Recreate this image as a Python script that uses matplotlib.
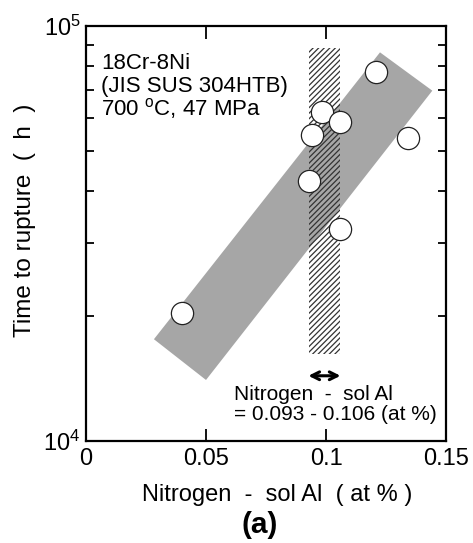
import matplotlib
matplotlib.use("Agg")
import matplotlib.pyplot as plt
from matplotlib.patches import Polygon, Rectangle
from matplotlib.ticker import FixedLocator, NullFormatter

plt.rcParams['font.family'] = ['Liberation Sans', 'DejaVu Sans']
plt.rcParams['mathtext.default'] = 'regular'
plt.rcParams['hatch.linewidth'] = 0.9
plt.rcParams['hatch.color'] = '#333333'

# data
n_sol_al = [0.040, 0.121, 0.0985, 0.106, 0.0943, 0.134, 0.0931, 0.106]
rupture_h = [20300, 77600, 62200, 58800, 54600, 53800, 42300, 32500]

band_x = [0.1225, 0.1443, 0.050, 0.0283]
band_y = [86400, 69850, 14030, 17590]

range_lo, range_hi = 0.093, 0.106
range_ymin, range_ymax = 16200, 88300
arrow_y = 14360

xticks = [0, 0.05, 0.1, 0.15]
xticklabels = ['0', '0.05', '0.1', '0.15']

fig = plt.figure(figsize=(4.73, 5.43), dpi=100)
ax = fig.add_axes([86/473, 1-441/543, 360/473, 415/543])
ax.set_xlim(0, 0.15)
ax.set_yscale('log')
ax.set_ylim(1e4, 1e5)

ax.add_patch(Polygon(list(zip(band_x, band_y)), closed=True,
                     facecolor='#a6a6a6', edgecolor='none', zorder=1))
ax.add_patch(Rectangle((range_lo, range_ymin), range_hi-range_lo,
                       range_ymax-range_ymin, facecolor='none',
                       edgecolor='#333333', linewidth=0, hatch='//////', zorder=2))
ax.plot(n_sol_al, rupture_h, 'o', ms=16, mfc='white', mec='#222222',
        mew=0.9, zorder=3, linestyle='none')

ax.annotate('', xy=(0.0915, arrow_y), xytext=(0.1072, arrow_y),
            arrowprops=dict(arrowstyle='<->', lw=2.2, color='black',
                            mutation_scale=14), zorder=4)

ax.text(0.0615, 12950, 'Nitrogen  -  sol Al', fontsize=15, va='center', ha='left')
ax.text(0.0615, 11600, '= 0.093 - 0.106 (at %)', fontsize=15, va='center', ha='left')

ax.text(0.0063, 81000, '18Cr-8Ni', fontsize=16, va='center', ha='left')
ax.text(0.0063, 71500, '(JIS SUS 304HTB)', fontsize=16, va='center', ha='left')
ax.text(0.0063, 63200, '700 $^{o}$C, 47 MPa', fontsize=16, va='center', ha='left')

ax.set_xticks(xticks)
ax.set_xticklabels(xticklabels, fontsize=17)
ax.yaxis.set_major_locator(FixedLocator([1e4, 1e5]))
ax.set_yticklabels(['$10^4$', '$10^5$'], fontsize=17)
ax.yaxis.set_minor_locator(FixedLocator([k*1e4 for k in range(2, 10)]))
ax.yaxis.set_minor_formatter(NullFormatter())
ax.xaxis.set_minor_locator(FixedLocator([]))

ax.tick_params(which='both', direction='in', top=True, right=True, width=1.3)
ax.tick_params(which='major', length=9, pad=5)
ax.tick_params(axis='y', which='major', length=0, pad=4)
ax.tick_params(which='minor', length=6)
for s in ax.spines.values():
    s.set_linewidth(1.6)

fig.text(277/473, 1-495/543, 'Nitrogen  -  sol Al  ( at % )', fontsize=17,
         ha='center', va='center')
fig.text(25/473, 1-220/543, 'Time to rupture  (  h  )', fontsize=17.5,
         ha='center', va='center', rotation=90)
fig.text(260/473, 1-525/543, '(a)', fontsize=21.5, fontweight='bold',
         ha='center', va='center')

fig.savefig('out.png', dpi=100)
